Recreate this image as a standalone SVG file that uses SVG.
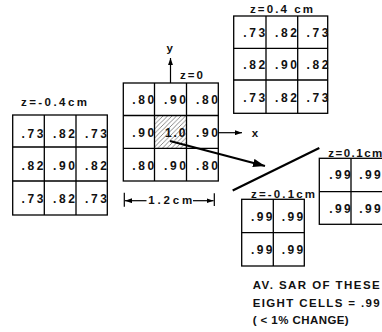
<svg xmlns="http://www.w3.org/2000/svg" width="382" height="332" viewBox="0 0 382 332">
<style>
.g{fill:none;stroke:#000;stroke-width:1.3}
.v{font-family:"Liberation Sans",Arial,Helvetica,sans-serif;font-weight:bold;font-size:12px;fill:#111}
.l{font-family:"Liberation Sans",Arial,Helvetica,sans-serif;font-weight:bold;font-size:11.5px;fill:#111}
.c{fill:none;stroke:#000;stroke-width:1.2}
.thick{fill:none;stroke:#000;stroke-width:2.2}
</style>
<defs>
<marker id="ah" viewBox="0 0 10 7" refX="10" refY="3.5" markerWidth="7" markerHeight="5" markerUnits="userSpaceOnUse" orient="auto"><path d="M0,0 L10,3.5 L0,7 z" fill="#000"/></marker>
<marker id="ahb" viewBox="0 0 10 7" refX="10" refY="3.5" markerWidth="12" markerHeight="8.5" markerUnits="userSpaceOnUse" orient="auto"><path d="M0,0 L10,3.5 L0,7 z" fill="#000"/></marker>
<pattern id="hatch" patternUnits="userSpaceOnUse" width="4.5" height="4.5"><path d="M-1,5.5 L5.5,-1 M-1,1 L1,-1 M3.5,5.5 L5.5,3.5" stroke="#333" stroke-width="0.6"/></pattern>
</defs>
<rect width="382" height="332" fill="#fff"/>

<g id="grid-z-neg04">
<rect class="g" x="12.7" y="115" width="94.6" height="100"/>
<path class="g" d="M44.3,115V215M76,115V215M12.7,147H107.3M12.7,181H107.3"/>
<text class="l" x="21" y="106" textLength="66" lengthAdjust="spacing">z=-0.4cm</text>
<text class="v" x="21.5" y="137.5" textLength="22" lengthAdjust="spacing">.73</text>
<text class="v" x="53" y="137.5" textLength="22" lengthAdjust="spacing">.82</text>
<text class="v" x="85" y="137.5" textLength="22" lengthAdjust="spacing">.73</text>
<text class="v" x="21.5" y="169.5" textLength="22" lengthAdjust="spacing">.82</text>
<text class="v" x="53" y="169.5" textLength="22" lengthAdjust="spacing">.90</text>
<text class="v" x="85" y="169.5" textLength="22" lengthAdjust="spacing">.82</text>
<text class="v" x="21.5" y="202.5" textLength="22" lengthAdjust="spacing">.73</text>
<text class="v" x="53" y="202.5" textLength="22" lengthAdjust="spacing">.82</text>
<text class="v" x="85" y="202.5" textLength="22" lengthAdjust="spacing">.73</text>
</g>

<g id="grid-z0">
<rect x="154.5" y="115.5" width="32" height="32.8" fill="url(#hatch)"/>
<rect class="g" x="123.3" y="83" width="95" height="98"/>
<path class="g" d="M154.5,83V181M186.5,83V181M123.3,115.5H218.3M123.3,148.3H218.3"/>
<text class="l" x="180" y="78.5" textLength="23" lengthAdjust="spacing">z=0</text>
<text class="v" x="132.3" y="103.5" textLength="22" lengthAdjust="spacing">.80</text>
<text class="v" x="164" y="103.5" textLength="22" lengthAdjust="spacing">.90</text>
<text class="v" x="196" y="103.5" textLength="22" lengthAdjust="spacing">.80</text>
<text class="v" x="132.3" y="137" textLength="22" lengthAdjust="spacing">.90</text>
<text class="v" x="165" y="137" textLength="20.5" lengthAdjust="spacing">1.0</text>
<text class="v" x="196" y="137" textLength="22" lengthAdjust="spacing">.90</text>
<text class="v" x="132.3" y="169.5" textLength="22" lengthAdjust="spacing">.80</text>
<text class="v" x="164" y="169.5" textLength="22" lengthAdjust="spacing">.90</text>
<text class="v" x="196" y="169.5" textLength="22" lengthAdjust="spacing">.80</text>
</g>

<g id="grid-z04">
<rect class="g" x="233.7" y="16" width="94" height="97.3"/>
<path class="g" d="M266,16V113.3M297.7,16V113.3M233.7,48.3H327.7M233.7,80H327.7"/>
<text class="l" x="250" y="12.5" textLength="63" lengthAdjust="spacing">z=0.4 cm</text>
<text class="v" x="243.3" y="36.5" textLength="22" lengthAdjust="spacing">.73</text>
<text class="v" x="275" y="36.5" textLength="22" lengthAdjust="spacing">.82</text>
<text class="v" x="306.5" y="36.5" textLength="22" lengthAdjust="spacing">.73</text>
<text class="v" x="243.3" y="68.5" textLength="22" lengthAdjust="spacing">.82</text>
<text class="v" x="275" y="68.5" textLength="22" lengthAdjust="spacing">.90</text>
<text class="v" x="306.5" y="68.5" textLength="22" lengthAdjust="spacing">.82</text>
<text class="v" x="243.3" y="101.5" textLength="22" lengthAdjust="spacing">.73</text>
<text class="v" x="275" y="101.5" textLength="22" lengthAdjust="spacing">.82</text>
<text class="v" x="306.5" y="101.5" textLength="22" lengthAdjust="spacing">.73</text>
</g>

<g id="grid-z-neg01">
<rect class="g" x="241.7" y="199.3" width="62.6" height="66.7"/>
<path class="g" d="M273.3,199.3V266M241.7,232.7H304.3"/>
<text class="l" x="251" y="198" textLength="64" lengthAdjust="spacing">z=-0.1cm</text>
<text class="v" x="251" y="221" textLength="21.5" lengthAdjust="spacing">.99</text>
<text class="v" x="281.7" y="221" textLength="21.5" lengthAdjust="spacing">.99</text>
<text class="v" x="251" y="254.3" textLength="21.5" lengthAdjust="spacing">.99</text>
<text class="v" x="281.7" y="254.3" textLength="21.5" lengthAdjust="spacing">.99</text>
</g>

<g id="grid-z01">
<rect class="g" x="319.3" y="158.3" width="64.5" height="66"/>
<path class="g" d="M351,158.3V224.3M319.3,191.7H383"/>
<text class="l" x="328.3" y="156.5" textLength="54" lengthAdjust="spacing">z=0.1cm</text>
<text class="v" x="329.3" y="179.3" textLength="21.5" lengthAdjust="spacing">.99</text>
<text class="v" x="359.3" y="179.3" textLength="21.5" lengthAdjust="spacing">.99</text>
<text class="v" x="329.3" y="213" textLength="21.5" lengthAdjust="spacing">.99</text>
<text class="v" x="359.3" y="213" textLength="21.5" lengthAdjust="spacing">.99</text>
</g>

<g id="note">
<text class="l" x="252.7" y="288.5" font-size="12" textLength="127" lengthAdjust="spacing">AV. SAR OF THESE</text>
<text class="l" x="252.7" y="306.5" font-size="12" textLength="127" lengthAdjust="spacing">EIGHT CELLS = .99</text>
<text class="l" x="252.7" y="324" font-size="12" textLength="96" lengthAdjust="spacing">( &lt; 1% CHANGE)</text>
</g>

<g id="connectors">
<line class="c" x1="170.5" y1="83" x2="170.5" y2="58" marker-end="url(#ah)"/>
<text class="l" x="166.5" y="52" font-size="13">y</text>
<line class="c" x1="218.3" y1="132.7" x2="242" y2="132.7" marker-end="url(#ah)"/>
<text class="l" x="251.7" y="136.7" font-size="12">x</text>
<line class="thick" x1="170" y1="141" x2="265" y2="166" marker-end="url(#ahb)"/>
<line class="thick" x1="232.7" y1="190.5" x2="319.3" y2="148"/>
<path class="c" d="M124.3,192.7V206.7M214.3,193.3V206"/>
<line class="c" x1="146.5" y1="200.7" x2="125" y2="200.7" marker-end="url(#ah)"/>
<line class="c" x1="193" y1="200.7" x2="213.6" y2="200.7" marker-end="url(#ah)"/>
<text class="l" x="148.3" y="204" font-size="11" textLength="44" lengthAdjust="spacing">1.2cm</text>
</g>
</svg>
